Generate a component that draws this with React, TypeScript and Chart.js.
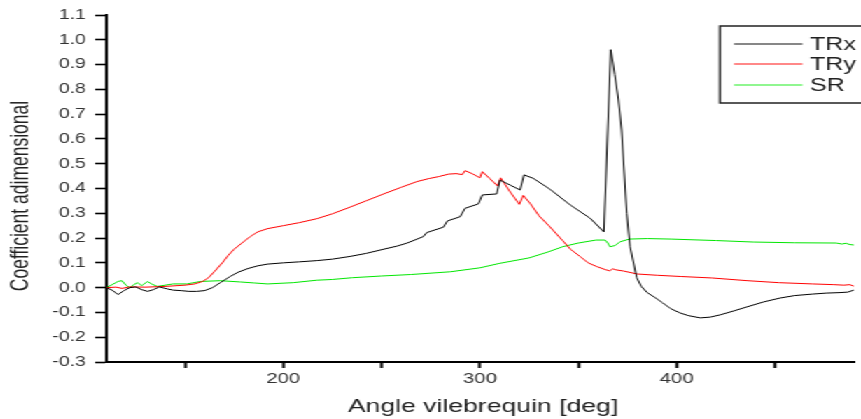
import React, { useEffect, useRef } from 'react';
import { Chart, registerables } from 'chart.js';
Chart.register(...registerables);

// ---------- data ----------
const SERIES_NAMES = ['TRx', 'TRy', 'SR'];
const SERIES_COLORS = ['#000000', '#ff0000', '#00e600'];
const LEGEND_COLORS = ['#111111', '#ff8888', '#22ee22'];

const TRX_X = [110, 113, 116, 119, 122, 125, 128, 131, 134, 137, 141, 144, 148, 152, 156, 160, 164, 168, 173, 177, 182, 187, 192, 200, 208, 217, 225, 234, 242, 251, 258, 263, 271.2, 272.9, 281.4, 283.4, 289.9, 292.4, 299.2, 301.2, 308.5, 310.2, 315.3, 320.4, 322.4, 327.1, 335.6, 345.8, 356, 363, 366.5, 368.5, 370.4, 372, 374.6, 376.3, 379.7, 382, 385, 389, 393, 397, 401.7, 406, 412, 417, 422, 429, 436, 444, 452.5, 460, 469, 476, 483, 487, 490];
const TRX_Y = [0.0, -0.01, -0.028, -0.012, 0.0, 0.003, -0.008, -0.015, -0.008, 0.003, -0.005, -0.01, -0.012, -0.015, -0.015, -0.012, 0.0, 0.02, 0.045, 0.062, 0.077, 0.088, 0.095, 0.1, 0.104, 0.109, 0.115, 0.126, 0.138, 0.155, 0.168, 0.18, 0.206, 0.222, 0.244, 0.269, 0.286, 0.32, 0.338, 0.374, 0.378, 0.434, 0.414, 0.394, 0.455, 0.441, 0.397, 0.334, 0.28, 0.225, 0.96, 0.86, 0.757, 0.636, 0.3, 0.165, 0.04, 0.005, -0.02, -0.04, -0.062, -0.085, -0.102, -0.113, -0.122, -0.119, -0.11, -0.094, -0.077, -0.058, -0.042, -0.032, -0.026, -0.022, -0.02, -0.018, -0.01];

const TRY_X = [110, 115, 118, 122, 130, 140, 150, 155, 159, 162, 165, 169, 172, 175, 179, 183, 187, 192, 200, 208, 217, 225, 234, 242, 251, 260, 268, 274, 279, 284, 288, 291, 292.4, 296, 300, 301.2, 305, 309, 310.5, 315, 320, 322, 325.5, 330, 335, 342, 346, 351, 355, 359.4, 364, 366, 367.5, 369, 373, 380, 390, 402, 418, 436, 452, 469, 480, 485, 488, 490];
const TRY_Y = [0.0, 0.002, -0.003, 0.003, 0.002, 0.005, 0.01, 0.015, 0.025, 0.04, 0.065, 0.1, 0.13, 0.155, 0.18, 0.205, 0.225, 0.238, 0.25, 0.262, 0.278, 0.298, 0.325, 0.35, 0.378, 0.405, 0.428, 0.44, 0.448, 0.458, 0.46, 0.456, 0.472, 0.46, 0.443, 0.468, 0.44, 0.41, 0.443, 0.39, 0.336, 0.372, 0.34, 0.29, 0.25, 0.19, 0.155, 0.125, 0.1, 0.085, 0.072, 0.068, 0.076, 0.072, 0.067, 0.055, 0.05, 0.045, 0.039, 0.028, 0.02, 0.015, 0.012, 0.01, 0.012, 0.006];

const SR_X = [110, 113, 116, 118, 120, 122, 124, 126, 128, 131, 133, 136, 140, 144, 151, 158, 168, 178, 185, 192, 205, 217, 225, 235, 250, 265, 285, 300, 310, 325, 335, 342, 350, 359, 363.6, 365, 366.1, 368.7, 371.2, 376, 385, 397, 420, 439, 460, 481, 484, 486, 488, 490];
const SR_Y = [0.0, 0.012, 0.025, 0.028, 0.01, 0.0, 0.012, 0.02, 0.008, 0.025, 0.015, 0.005, 0.01, 0.015, 0.015, 0.025, 0.028, 0.023, 0.019, 0.015, 0.02, 0.03, 0.033, 0.04, 0.047, 0.053, 0.064, 0.08, 0.098, 0.12, 0.145, 0.165, 0.18, 0.192, 0.192, 0.18, 0.165, 0.17, 0.185, 0.196, 0.198, 0.196, 0.19, 0.184, 0.181, 0.18, 0.176, 0.179, 0.174, 0.172];

const X_MIN = 110.4;
const X_MAX = 490.6;
const X_STEP = 50;
const X_LABELLED = [200, 300, 400];
const Y_MIN = -0.3;
const Y_MAX = 1.1;
const Y_STEP = 0.1;
const X_TITLE = 'Angle vilebrequin [deg]';
const Y_TITLE = 'Coefficient adimensional';

// ---------- layout ----------
const STRETCH = 1.4;
const W = 615;
const H = 419;
const FONT = '"Liberation Sans", Arial, Helvetica, sans-serif';

const pts = (xs: number[], ys: number[]) => xs.map((x, i) => ({ x, y: ys[i] }));

const overlay = {
  id: 'overlay',
  afterDraw(chart: any) {
    const ctx = chart.ctx as CanvasRenderingContext2D;
    const a = chart.chartArea;
    ctx.save();
    ctx.fillStyle = '#222';
    ctx.textAlign = 'center';
    ctx.textBaseline = 'alphabetic';
    ctx.font = `19px ${FONT}`;
    ctx.fillText(X_TITLE, (a.left + a.right) / 2 + 1.5, 412);

    ctx.save();
    ctx.translate(20, 196);
    ctx.rotate(-Math.PI / 2);
    ctx.font = `17.5px ${FONT}`;
    ctx.fillText(Y_TITLE, 0, 0);
    ctx.restore();

    // legend
    const bx = 514.3, by = 26, bw = 130, bh = 77;
    ctx.lineWidth = 1.5;
    ctx.strokeStyle = '#222';
    ctx.strokeRect(bx, by, bw, bh);
    const rowsY = [44, 64, 85];
    ctx.textAlign = 'left';
    ctx.textBaseline = 'middle';
    ctx.font = `18px ${FONT}`;
    SERIES_NAMES.forEach((name, i) => {
      ctx.beginPath();
      ctx.strokeStyle = LEGEND_COLORS[i];
      ctx.lineWidth = i === 1 ? 2 : 1.2;
      ctx.moveTo(524.3, rowsY[i]);
      ctx.lineTo(573.3, rowsY[i]);
      ctx.stroke();
      ctx.fillStyle = '#222';
      ctx.fillText(name, 578.6, rowsY[i] + 1);
    });
    ctx.restore();
  },
};

export default function App() {
  const ref = useRef<HTMLCanvasElement | null>(null);
  useEffect(() => {
    if (!ref.current) return;
    const chart = new Chart(ref.current, {
      type: 'line',
      data: {
        datasets: [
          { label: SERIES_NAMES[0], data: pts(TRX_X, TRX_Y), borderColor: SERIES_COLORS[0], borderWidth: 1, pointRadius: 0, tension: 0 },
          { label: SERIES_NAMES[1], data: pts(TRY_X, TRY_Y), borderColor: SERIES_COLORS[1], borderWidth: 1, pointRadius: 0, tension: 0 },
          { label: SERIES_NAMES[2], data: pts(SR_X, SR_Y), borderColor: SERIES_COLORS[2], borderWidth: 1, pointRadius: 0, tension: 0 },
        ],
      },
      options: {
        animation: false,
        responsive: false,
        devicePixelRatio: 1,
        layout: { padding: { top: 15, right: 4.3, left: 0, bottom: 0 } },
        plugins: { legend: { display: false }, tooltip: { enabled: false } },
        scales: {
          x: {
            type: 'linear',
            min: X_MIN,
            max: X_MAX,
            afterFit: (s: any) => { s.height = 57; },
            border: { display: true, color: '#000', width: 2 },
            grid: { drawOnChartArea: false, drawTicks: true, tickLength: 6, tickWidth: 2, tickColor: '#000', color: '#000' },
            ticks: {
              stepSize: X_STEP,
              includeBounds: false,
              autoSkip: false,
              maxRotation: 0,
              padding: 2,
              color: '#333',
              font: { family: FONT, size: 14.5 },
              callback: (v: any) => (X_LABELLED.includes(Math.round(Number(v))) ? String(Math.round(Number(v))) : ''),
            },
          },
          y: {
            type: 'linear',
            min: Y_MIN,
            max: Y_MAX,
            afterFit: (s: any) => { s.width = 76.4; },
            border: { display: true, color: '#000', width: 2 },
            grid: { drawOnChartArea: false, drawTicks: true, tickLength: 8.5, tickWidth: 1.6, tickColor: '#000', color: '#000' },
            ticks: {
              stepSize: Y_STEP,
              autoSkip: false,
              padding: 6.5,
              color: '#333',
              font: { family: FONT, size: 14 },
              callback: (v: any) => Number(v).toFixed(1),
            },
          },
        },
      } as any,
      plugins: [overlay],
    });
    return () => chart.destroy();
  }, []);

  return (
    <div
      style={{
        position: 'absolute',
        left: 0,
        top: 0,
        width: W,
        height: H,
        transform: `scaleX(${STRETCH})`,
        transformOrigin: '0 0',
        background: '#fff',
      }}
    >
      <canvas ref={ref} width={W} height={H} style={{ display: 'block' }} />
    </div>
  );
}
